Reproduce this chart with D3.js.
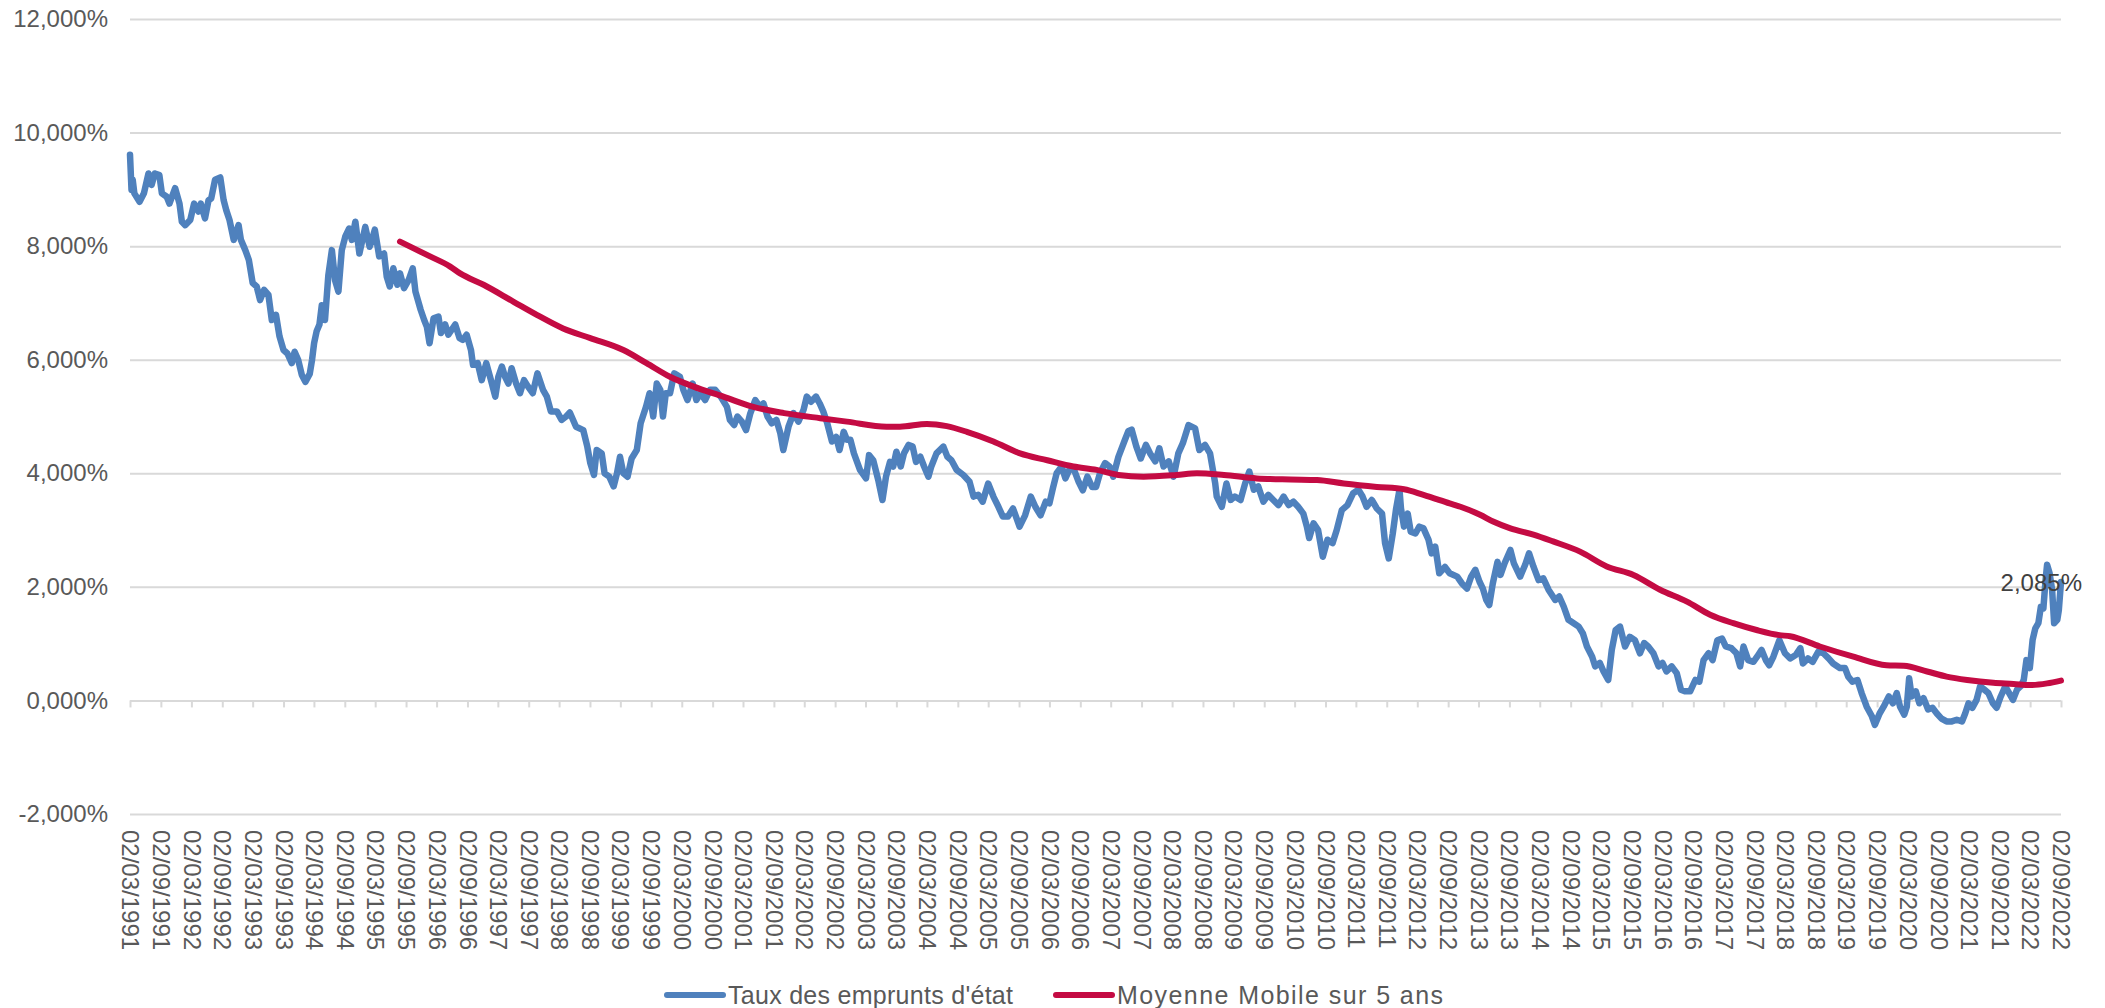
<!DOCTYPE html>
<html><head><meta charset="utf-8">
<script src="https://cdn.jsdelivr.net/npm/d3@7"></script>
<style>
body{margin:0;background:#fff;}
text{font-family:"Liberation Sans", Arial, sans-serif;}
</style>
</head><body>
<svg id="chart" width="2105" height="1008"></svg>
<script>
// ---------- DATA ----------
const rateDates = [
"1991-03-02","1991-03-11","1991-03-18","1991-03-28","1991-04-28","1991-05-24","1991-06-20","1991-07-09","1991-07-28","1991-08-24",
"1991-09-08","1991-10-07","1991-10-23","1991-11-26","1991-12-22","1992-01-05","1992-01-25","1992-02-24","1992-03-18","1992-04-13",
"1992-04-27","1992-05-22","1992-06-12","1992-06-28","1992-07-21","1992-08-21","1992-09-10","1992-09-26","1992-10-15","1992-11-09",
"1992-12-08","1992-12-22","1993-01-17","1993-02-07","1993-03-02","1993-03-26","1993-04-15","1993-05-09","1993-06-04","1993-06-24",
"1993-07-19","1993-08-09","1993-09-02","1993-09-25","1993-10-21","1993-11-07","1993-11-28","1993-12-20","1994-01-10","1994-02-05",
"1994-02-19","1994-03-03","1994-03-18","1994-04-04","1994-04-18","1994-05-07","1994-05-27","1994-06-17","1994-07-06","1994-07-26",
"1994-08-15","1994-09-05","1994-09-28","1994-10-14","1994-11-04","1994-11-28","1995-01-02","1995-01-28","1995-02-11","1995-02-28",
"1995-03-26","1995-04-24","1995-05-10","1995-05-28","1995-06-18","1995-07-12","1995-07-28","1995-08-21","1995-09-17","1995-10-12",
"1995-10-28","1995-11-28","1995-12-19","1996-01-04","1996-01-20","1996-02-13","1996-03-13","1996-03-28","1996-04-22","1996-05-11",
"1996-06-21","1996-07-17","1996-08-05","1996-08-28","1996-09-23","1996-10-05","1996-11-02","1996-11-26","1996-12-23","1997-01-20",
"1997-02-15","1997-03-05","1997-03-26","1997-04-14","1997-05-04","1997-05-23","1997-06-19","1997-07-12","1997-08-05","1997-08-28",
"1997-09-26","1997-10-24","1997-11-26","1997-12-19","1998-01-12","1998-02-17","1998-03-17","1998-04-13","1998-05-05","1998-06-11",
"1998-07-24","1998-08-17","1998-09-04","1998-09-26","1998-10-12","1998-11-11","1998-11-28","1998-12-26","1999-01-21","1999-02-10",
"1999-02-28","1999-03-20","1999-04-14","1999-05-08","1999-06-08","1999-07-01","1999-08-02","1999-08-23","1999-09-14","1999-10-05",
"1999-10-26","1999-11-11","1999-11-28","1999-12-23","2000-01-17","2000-02-20","2000-03-11","2000-04-05","2000-05-06","2000-05-28",
"2000-06-23","2000-07-19","2000-08-17","2000-09-17","2000-10-20","2000-11-26","2000-12-14","2001-01-08","2001-01-28","2001-02-23",
"2001-03-20","2001-04-14","2001-05-14","2001-06-11","2001-07-02","2001-07-26","2001-08-20","2001-09-17","2001-10-10","2001-10-28",
"2001-11-28","2001-12-28","2002-01-26","2002-02-26","2002-03-17","2002-04-11","2002-05-11","2002-06-02","2002-06-23","2002-07-17",
"2002-08-14","2002-09-08","2002-09-28","2002-10-23","2002-11-11","2002-12-02","2002-12-23","2003-01-28","2003-03-05","2003-03-23",
"2003-04-17","2003-05-17","2003-06-11","2003-07-02","2003-07-26","2003-08-14","2003-09-02","2003-09-28","2003-10-17","2003-11-14",
"2003-12-08","2003-12-28","2004-01-23","2004-02-14","2004-03-11","2004-03-28","2004-04-28","2004-06-08","2004-07-02","2004-07-26",
"2004-08-26","2004-10-05","2004-11-11","2004-12-05","2005-01-02","2005-01-28","2005-03-02","2005-04-02","2005-05-02","2005-05-28",
"2005-06-28","2005-07-28","2005-09-05","2005-10-08","2005-11-11","2005-12-08","2006-01-08","2006-02-08","2006-03-02","2006-03-23",
"2006-04-14","2006-05-14","2006-06-05","2006-06-28","2006-07-23","2006-08-23","2006-09-17","2006-10-14","2006-11-11","2006-12-05",
"2006-12-28","2007-01-28","2007-02-23","2007-03-17","2007-04-17","2007-05-26","2007-06-15","2007-07-05","2007-08-02","2007-08-28",
"2007-09-28","2007-10-23","2007-11-23","2007-12-17","2008-01-11","2008-02-11","2008-03-11","2008-04-08","2008-05-05","2008-06-08",
"2008-07-17","2008-08-11","2008-09-14","2008-10-14","2008-11-14","2008-11-23","2008-12-23","2009-01-20","2009-02-14","2009-03-11",
"2009-04-14","2009-05-11","2009-06-05","2009-07-02","2009-07-28","2009-08-28","2009-09-26","2009-10-26","2009-11-26","2009-12-26",
"2010-01-26","2010-02-23","2010-03-23","2010-04-23","2010-05-14","2010-05-28","2010-06-23","2010-07-20","2010-08-17","2010-09-14",
"2010-10-14","2010-11-08","2010-12-08","2011-01-11","2011-02-14","2011-03-17","2011-04-11","2011-05-05","2011-06-05","2011-07-05",
"2011-08-05","2011-08-23","2011-09-14","2011-10-08","2011-10-28","2011-11-17","2011-11-26","2011-12-14","2012-01-05","2012-01-23",
"2012-02-20","2012-03-14","2012-04-08","2012-05-08","2012-05-26","2012-06-17","2012-07-11","2012-08-14","2012-09-11","2012-10-26",
"2012-11-23","2012-12-23","2013-01-17","2013-02-11","2013-03-08","2013-03-28","2013-04-17","2013-05-05","2013-05-26","2013-06-23",
"2013-07-11","2013-08-05","2013-09-08","2013-09-28","2013-11-05","2013-12-05","2013-12-28","2014-01-23","2014-02-23","2014-03-23",
"2014-04-23","2014-06-02","2014-06-26","2014-07-23","2014-08-20","2014-09-20","2014-10-20","2014-11-14","2014-12-08","2015-01-08",
"2015-01-26","2015-02-23","2015-03-17","2015-04-14","2015-05-05","2015-05-28","2015-06-23","2015-07-23","2015-08-20","2015-09-20",
"2015-10-20","2015-11-14","2015-12-08","2016-01-08","2016-02-08","2016-03-02","2016-03-26","2016-04-26","2016-05-26","2016-06-20",
"2016-07-14","2016-08-14","2016-09-14","2016-10-08","2016-11-02","2016-12-02","2016-12-26","2017-01-23","2017-02-20","2017-03-14",
"2017-04-17","2017-05-17","2017-06-08","2017-06-28","2017-07-26","2017-08-26","2017-09-17","2017-10-14","2017-11-08","2017-11-28",
"2017-12-23","2018-01-28","2018-03-02","2018-04-02","2018-05-05","2018-06-02","2018-06-17","2018-07-17","2018-08-14","2018-09-17",
"2018-10-17","2018-11-17","2018-12-14","2019-01-23","2019-02-23","2019-03-14","2019-04-08","2019-05-08","2019-06-02","2019-07-02",
"2019-08-02","2019-08-20","2019-09-17","2019-10-11","2019-11-11","2019-12-05","2019-12-28","2020-01-17","2020-02-11","2020-02-26",
"2020-03-11","2020-03-26","2020-04-20","2020-05-11","2020-06-05","2020-07-02","2020-07-28","2020-08-23","2020-09-20","2020-10-20",
"2020-11-20","2020-12-20","2021-01-20","2021-02-08","2021-02-28","2021-03-23","2021-04-17","2021-05-08","2021-06-02","2021-06-26",
"2021-07-23","2021-08-14","2021-09-08","2021-10-05","2021-10-28","2021-11-20","2021-12-14","2022-01-05","2022-01-23","2022-02-08",
"2022-02-28","2022-03-17","2022-04-02","2022-04-20","2022-05-05","2022-05-20","2022-06-02","2022-06-11","2022-06-26","2022-07-11",
"2022-07-23","2022-08-11","2022-08-20","2022-09-02"
];
const rateValues = [
9.61,8.99,9.17,8.93,8.78,8.93,9.28,9.08,9.28,9.25,
8.93,8.87,8.75,9.02,8.75,8.43,8.37,8.46,8.75,8.61,
8.75,8.49,8.81,8.84,9.17,9.21,8.81,8.63,8.46,8.11,
8.37,8.11,7.93,7.76,7.35,7.29,7.05,7.23,7.14,6.70,
6.79,6.41,6.17,6.11,5.94,6.14,6.00,5.73,5.61,5.75,
6.00,6.29,6.50,6.62,6.96,6.70,7.49,7.93,7.40,7.20,
7.93,8.17,8.31,8.11,8.43,7.87,8.34,7.99,8.11,8.29,
7.82,7.87,7.46,7.29,7.61,7.32,7.52,7.26,7.40,7.61,
7.20,6.88,6.70,6.58,6.29,6.73,6.76,6.47,6.62,6.44,
6.62,6.38,6.35,6.44,6.17,5.91,5.94,5.64,5.94,5.64,
5.35,5.70,5.88,5.70,5.58,5.85,5.58,5.41,5.64,5.53,
5.41,5.76,5.47,5.35,5.09,5.09,4.94,5.00,5.07,4.82,
4.76,4.47,4.18,3.97,4.41,4.35,4.00,3.94,3.77,4.00,
4.29,4.00,3.94,4.26,4.41,4.88,5.17,5.41,5.00,5.58,
5.47,5.00,5.41,5.41,5.76,5.70,5.47,5.29,5.58,5.29,
5.41,5.29,5.47,5.47,5.35,5.17,4.94,4.85,5.00,4.91,
4.76,5.05,5.29,5.17,5.23,5.00,4.88,4.94,4.71,4.41,
4.82,5.06,4.91,5.12,5.35,5.26,5.35,5.23,5.09,4.88,
4.56,4.64,4.41,4.73,4.59,4.59,4.35,4.06,3.91,4.32,
4.23,3.88,3.53,3.94,4.20,4.12,4.38,4.12,4.35,4.50,
4.47,4.20,4.29,4.12,3.94,4.12,4.35,4.47,4.29,4.23,
4.06,3.97,3.85,3.59,3.62,3.50,3.82,3.59,3.41,3.24,
3.24,3.38,3.06,3.26,3.59,3.41,3.26,3.50,3.47,3.74,
4.00,4.12,3.91,4.06,4.09,3.85,3.70,3.94,3.76,3.76,
4.00,4.18,4.12,3.94,4.29,4.59,4.74,4.77,4.47,4.26,
4.50,4.35,4.21,4.44,4.12,4.21,3.94,4.35,4.53,4.85,
4.79,4.41,4.50,4.35,3.82,3.59,3.41,3.82,3.53,3.59,
3.53,3.82,4.03,3.71,3.77,3.50,3.62,3.53,3.44,3.59,
3.44,3.50,3.41,3.29,3.06,2.86,3.12,3.00,2.53,2.83,
2.77,3.00,3.35,3.44,3.65,3.71,3.59,3.41,3.53,3.38,
3.29,2.77,2.50,2.94,3.38,3.71,3.38,3.06,3.29,2.97,
2.94,3.06,3.03,2.83,2.59,2.71,2.24,2.35,2.24,2.18,
2.06,1.97,2.18,2.30,2.09,1.97,1.77,1.68,2.06,2.44,
2.21,2.42,2.65,2.42,2.18,2.39,2.59,2.36,2.12,2.15,
1.95,1.77,1.83,1.65,1.42,1.36,1.30,1.18,0.95,0.77,
0.60,0.66,0.51,0.36,0.89,1.24,1.30,0.95,1.12,1.06,
0.83,1.01,0.95,0.83,0.60,0.66,0.51,0.60,0.48,0.19,
0.16,0.16,0.36,0.33,0.71,0.83,0.71,1.06,1.09,0.95,
0.92,0.83,0.60,0.95,0.71,0.68,0.77,0.89,0.71,0.62,
0.77,1.06,0.83,0.74,0.80,0.92,0.65,0.74,0.68,0.86,
0.83,0.74,0.65,0.57,0.57,0.42,0.33,0.36,0.13,-0.11,
-0.28,-0.43,-0.23,-0.11,0.07,-0.05,0.13,-0.11,-0.25,-0.11,
0.39,0.07,0.16,-0.05,0.04,-0.16,-0.13,-0.23,-0.32,-0.37,
-0.37,-0.34,-0.37,-0.23,-0.05,-0.13,0.01,0.25,0.19,0.13,
-0.05,-0.13,0.07,0.25,0.13,0.01,0.19,0.25,0.36,0.71,
0.57,1.07,1.27,1.36,1.65,1.62,2.12,2.39,2.24,1.95,
1.36,1.42,1.59,2.085
];
const maDates = [
"1995-07-28","1996-01-23","1996-05-22","1996-07-20","1996-12-07","1997-06-04","1997-10-20","1998-03-26","1998-09-04","1999-03-20",
"1999-08-05","1999-12-23","2000-05-08","2000-11-05","2001-05-02","2001-11-02","2002-06-05","2002-11-11","2003-07-05","2003-09-23",
"2004-03-02","2004-06-28","2004-10-26","2005-04-02","2005-09-08","2006-02-17","2006-07-23","2006-12-08","2007-04-17","2007-09-14",
"2008-03-28","2008-07-28","2009-01-05","2009-07-20","2010-02-05","2010-07-14","2010-12-20","2011-07-05","2011-12-14","2012-04-08",
"2012-09-11","2012-11-14","2013-03-11","2013-05-28","2013-09-08","2014-01-23","2014-05-20","2014-10-28","2015-04-05","2015-09-11",
"2016-02-17","2016-07-26","2016-12-11","2017-04-28","2017-09-14","2018-01-28","2018-04-02","2018-09-26","2019-04-14","2019-10-28",
"2020-02-08","2020-06-26","2020-10-20","2021-02-20","2021-07-26","2021-11-23","2022-03-02","2022-06-11","2022-09-02"
];
const maValues = [
8.08,7.82,7.64,7.52,7.32,7.02,6.79,6.55,6.38,6.17,
5.94,5.70,5.53,5.35,5.17,5.06,4.97,4.91,4.82,4.82,
4.87,4.83,4.73,4.56,4.35,4.23,4.12,4.06,3.97,3.94,
3.97,4.00,3.97,3.91,3.89,3.88,3.82,3.76,3.72,3.62,
3.47,3.41,3.27,3.15,3.03,2.92,2.80,2.62,2.36,2.21,
1.95,1.74,1.51,1.36,1.24,1.15,1.13,0.95,0.77,0.62,
0.61,0.51,0.42,0.36,0.31,0.29,0.27,0.30,0.35
];
const seriesNames = ["Taux des emprunts d'état", "Moyenne Mobile sur 5 ans"];
const yTickValues = [-2, 0, 2, 4, 6, 8, 10, 12];
const xTickStart = "1991-03-02", xTickEnd = "2022-09-02", xTickStepMonths = 6;
const lastLabel = "2,085%";

// ---------- CHART ----------
(function () {
const W = 2105, H = 1008;
const mL = 130, mR = 2061, mT = 19, mB = 814;
const blue = "#4F81BD", red = "#C40B43", grid = "#d9d9d9", labelCol = "#595959";

const parse = d3.timeParse("%Y-%m-%d");
const fmtDate = d3.timeFormat("%d/%m/%Y");
const frLocale = d3.formatLocale({decimal: ",", thousands: " ", grouping: [3], currency: ["", " €"], minus: "-"});
const fmtPct = v => frLocale.format(".3f")(v) + "%";

const rate = rateDates.map((d, i) => ({date: parse(d), value: rateValues[i]}));
const ma = maDates.map((d, i) => ({date: parse(d), value: maValues[i]}));

const x = d3.scaleTime().domain([parse(xTickStart), parse(xTickEnd)]).range([mL, mR]);
const y = d3.scaleLinear().domain([-2, 12]).range([mB, mT]);

const xTicks = [];
for (let d = parse(xTickStart); d <= parse(xTickEnd); d = d3.timeMonth.offset(d, xTickStepMonths)) xTicks.push(d);

const svg = d3.select("#chart");
svg.append("rect").attr("width", W).attr("height", H).attr("fill", "#fff");

// Y axis with gridlines
const yAxis = svg.append("g").attr("transform", `translate(${mL},0)`)
  .call(d3.axisLeft(y).tickValues(yTickValues).tickSize(-(mR - mL)).tickPadding(22).tickFormat(fmtPct));
yAxis.select(".domain").remove();
yAxis.selectAll(".tick line").attr("stroke", grid).attr("stroke-width", 2);
yAxis.selectAll(".tick text").attr("fill", labelCol).attr("font-size", 24)
  .attr("font-family", "Liberation Sans, Arial, sans-serif");

// X axis at 0%
const xAxis = svg.append("g").attr("transform", `translate(0,${y(0)})`)
  .call(d3.axisBottom(x).tickValues(xTicks).tickSize(7).tickFormat(fmtDate));
xAxis.select(".domain").remove();
xAxis.selectAll(".tick line").attr("stroke", grid).attr("stroke-width", 2);
xAxis.selectAll(".tick text")
  .attr("fill", labelCol).attr("font-size", 24)
  .attr("font-family", "Liberation Sans, Arial, sans-serif")
  .attr("text-anchor", "start").attr("x", 0).attr("y", 0).attr("dy", "0.35em")
  .attr("transform", `translate(0,${mB + 16 - y(0)}) rotate(90)`);

// Lines
const line = d3.line().x(d => x(d.date)).y(d => y(d.value));
svg.append("path").datum(rate).attr("fill", "none").attr("stroke", blue)
  .attr("stroke-width", 6.5).attr("stroke-linejoin", "round").attr("stroke-linecap", "round")
  .attr("d", line);
svg.append("path").datum(ma).attr("fill", "none").attr("stroke", red)
  .attr("stroke-width", 6).attr("stroke-linejoin", "round").attr("stroke-linecap", "round")
  .attr("d", line.curve(d3.curveMonotoneX));

// Last value label
const last = rate[rate.length - 1];
svg.append("text").attr("x", x(last.date) + 21).attr("y", y(last.value)).attr("dy", "0.36em")
  .attr("text-anchor", "end").attr("font-size", 24).attr("fill", "#404040").text(lastLabel);

// Legend
const legendY = 995;
const legendItems = [
  {name: seriesNames[0], color: blue, x0: 667, len: 285},
  {name: seriesNames[1], color: red, x0: 1056, len: 326}
];
const lg = svg.append("g");
legendItems.forEach(it => {
  lg.append("line").attr("x1", it.x0).attr("x2", it.x0 + 56).attr("y1", legendY).attr("y2", legendY)
    .attr("stroke", it.color).attr("stroke-width", 6).attr("stroke-linecap", "round");
  lg.append("text").attr("x", it.x0 + 61).attr("y", legendY).attr("dy", "0.35em")
    .attr("font-size", 25).attr("fill", labelCol)
    .attr("textLength", it.len).attr("lengthAdjust", "spacing").text(it.name);
});
})();
</script>
</body></html>
